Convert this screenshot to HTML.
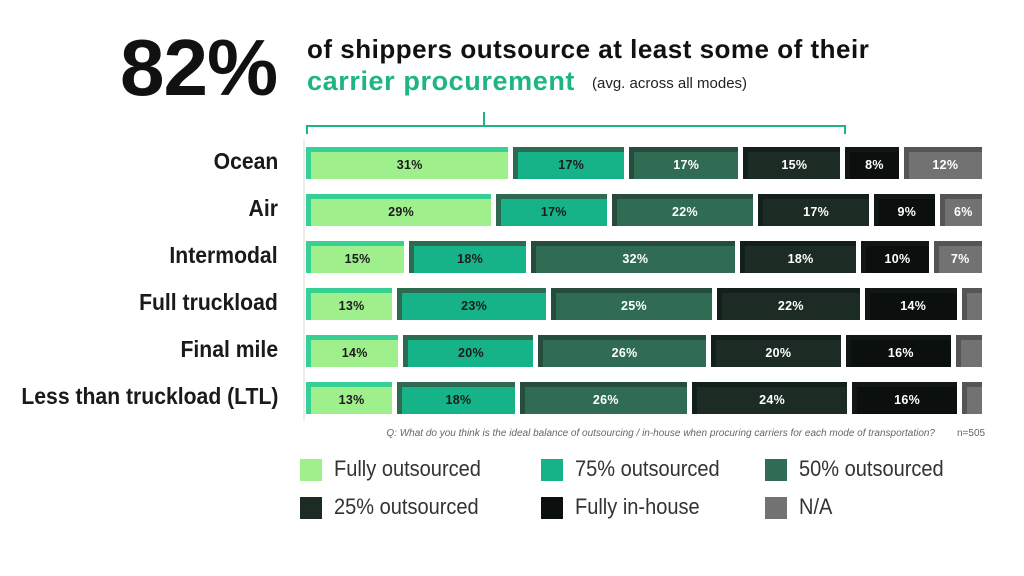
<!DOCTYPE html>
<html><head><style>
body{margin:0;width:1024px;height:576px;background:#fff;position:relative;overflow:hidden;font-family:"Liberation Sans",sans-serif}
.abs{position:absolute}
.lbl{position:absolute;right:746px;font-weight:bold;font-size:23px;color:#1a1a1a;white-space:nowrap;transform:scaleX(0.92);transform-origin:right center}
.row{position:absolute;left:306px;width:676px;height:32px;display:flex;gap:5px}
.s{box-sizing:border-box;height:32px;border-top:5px solid;border-left:5px solid;display:flex;align-items:center;justify-content:center;font-weight:bold;font-size:12.5px;padding-bottom:2px;overflow:hidden;letter-spacing:0.3px}
.c1{background:#a0ef8d;border-color:#36cf94;color:#1b1b1b}
.c2{background:#16b388;border-color:#2e6a52;color:#1b1b1b}
.c3{background:#306b53;border-color:#254c3c;color:#fff}
.c4{background:#1c2c25;border-color:#131f1a;color:#fff}
.c5{background:#0b0f0d;border-color:#111715;color:#fff}
.c6{background:#727272;border-color:#555;color:#fff}
.leg{position:absolute;font-size:22px;color:#333;white-space:nowrap;transform:scaleX(0.91);transform-origin:left center}
.sq{position:absolute;width:22px;height:22px}
</style></head><body>
<div class="abs" style="left:120px;top:22px;font-size:80px;font-weight:bold;color:#111;letter-spacing:-1px">82%</div>
<div class="abs" style="left:307px;top:34px;font-size:26px;font-weight:bold;color:#111;white-space:nowrap;letter-spacing:0.5px">of shippers outsource at least some of their</div>
<div class="abs" style="left:307px;top:66px;font-size:27px;font-weight:bold;color:#1cb67e;white-space:nowrap;letter-spacing:0.6px">carrier procurement</div>
<div class="abs" style="left:592px;top:75px;font-size:15px;color:#222;white-space:nowrap">(avg. across all modes)</div>
<svg class="abs" style="left:0;top:0" width="1024" height="576">
<path d="M307 134 V126 H484 V112 M484 126 H845 V134" fill="none" stroke="#1cb67e" stroke-width="2"/>
<line x1="304" y1="140" x2="304" y2="420" stroke="#e6e6e6" stroke-width="1.5"/>
</svg>
<div class="lbl" style="top:148px">Ocean</div>
<div class="lbl" style="top:195px">Air</div>
<div class="lbl" style="top:242px">Intermodal</div>
<div class="lbl" style="top:289px">Full truckload</div>
<div class="lbl" style="top:336px">Final mile</div>
<div class="lbl" style="top:383px">Less than truckload (LTL)</div>

<div class="row" style="top:147px"><div class="s c1" style="flex:31.8">31%</div><div class="s c2" style="flex:17">17%</div><div class="s c3" style="flex:16.8">17%</div><div class="s c4" style="flex:14.8">15%</div><div class="s c5" style="flex:7.8">8%</div><div class="s c6" style="flex:11.8">12%</div></div>
<div class="row" style="top:194px"><div class="s c1" style="flex:29">29%</div><div class="s c2" style="flex:17">17%</div><div class="s c3" style="flex:22">22%</div><div class="s c4" style="flex:17">17%</div><div class="s c5" style="flex:9">9%</div><div class="s c6" style="flex:6">6%</div></div>
<div class="row" style="top:241px"><div class="s c1" style="flex:15">15%</div><div class="s c2" style="flex:18">18%</div><div class="s c3" style="flex:32">32%</div><div class="s c4" style="flex:18">18%</div><div class="s c5" style="flex:10">10%</div><div class="s c6" style="flex:7">7%</div></div>
<div class="row" style="top:288px"><div class="s c1" style="flex:13">13%</div><div class="s c2" style="flex:23">23%</div><div class="s c3" style="flex:25">25%</div><div class="s c4" style="flex:22">22%</div><div class="s c5" style="flex:14">14%</div><div class="s c6" style="flex:2.4"></div></div>
<div class="row" style="top:335px"><div class="s c1" style="flex:14">14%</div><div class="s c2" style="flex:20">20%</div><div class="s c3" style="flex:26">26%</div><div class="s c4" style="flex:20">20%</div><div class="s c5" style="flex:16">16%</div><div class="s c6" style="flex:3.4"></div></div>
<div class="row" style="top:382px"><div class="s c1" style="flex:13">13%</div><div class="s c2" style="flex:18">18%</div><div class="s c3" style="flex:26">26%</div><div class="s c4" style="flex:24">24%</div><div class="s c5" style="flex:16">16%</div><div class="s c6" style="flex:2.4"></div></div>

<div class="abs" style="right:89px;top:428px;font-size:10px;font-style:italic;color:#666;white-space:nowrap">Q: What do you think is the ideal balance of outsourcing / in-house when procuring carriers for each mode of transportation?</div>
<div class="abs" style="left:957px;top:428px;font-size:10px;color:#666">n=505</div>

<div class="sq" style="left:300px;top:459px;background:#a0ef8d"></div><div class="leg" style="left:334px;top:456px">Fully outsourced</div>
<div class="sq" style="left:541px;top:459px;background:#16b388"></div><div class="leg" style="left:575px;top:456px">75% outsourced</div>
<div class="sq" style="left:765px;top:459px;background:#306b53"></div><div class="leg" style="left:799px;top:456px">50% outsourced</div>
<div class="sq" style="left:300px;top:497px;background:#1c2c25"></div><div class="leg" style="left:334px;top:494px">25% outsourced</div>
<div class="sq" style="left:541px;top:497px;background:#0b0f0d"></div><div class="leg" style="left:575px;top:494px">Fully in-house</div>
<div class="sq" style="left:765px;top:497px;background:#727272"></div><div class="leg" style="left:799px;top:494px">N/A</div>
</body></html>
